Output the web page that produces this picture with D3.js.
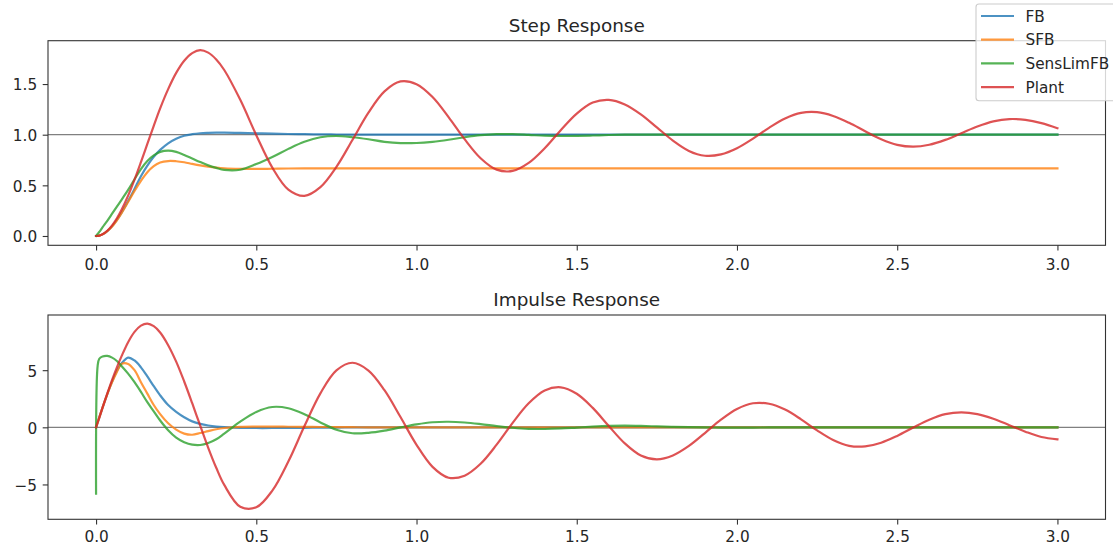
<!DOCTYPE html>
<html>
<head>
<meta charset="utf-8">
<script src="https://cdn.jsdelivr.net/npm/d3@7"></script>
<style>
  body { margin: 0; background: #fff; }
  svg { display: block; font-family: "DejaVu Sans", sans-serif; }
</style>
</head>
<body>
<div id="chart"></div>
<script>
// sample times (s), shared by every series
const tGrid = [0, 0.005, 0.01, 0.02, 0.035, 0.05, 0.065, 0.08, 0.1, 0.12,
  0.14, 0.16, 0.18, 0.2, 0.225, 0.25, 0.275, 0.3, 0.325, 0.35,
  0.375, 0.4, 0.45, 0.5, 0.55, 0.6, 0.65, 0.7, 0.75, 0.8,
  0.85, 0.9, 0.95, 1.0, 1.05, 1.1, 1.15, 1.2, 1.25, 1.3,
  1.35, 1.4, 1.45, 1.5, 1.55, 1.6, 1.65, 1.7, 1.75, 1.8,
  1.85, 1.9, 1.95, 2.0, 2.05, 2.1, 2.15, 2.2, 2.25, 2.3,
  2.35, 2.4, 2.45, 2.5, 2.55, 2.6, 2.65, 2.7, 2.75, 2.8,
  2.85, 2.9, 2.95, 3.0];

const seriesNames = ['FB', 'SFB', 'SensLimFB', 'Plant'];

// step response values
const stepFB = [0, 0.001, 0.004, 0.016, 0.048, 0.095, 0.158, 0.232, 0.345, 0.465,
  0.59, 0.695, 0.782, 0.85, 0.915, 0.96, 0.99, 1.005, 1.014, 1.018,
  1.02, 1.02, 1.018, 1.014, 1.01, 1.007, 1.005, 1.003, 1.002, 1.001,
  1, 1, 1, 1, 1, 1, 1, 1, 1, 1,
  1, 1, 1, 1, 1, 1, 1, 1, 1, 1,
  1, 1, 1, 1, 1, 1, 1, 1, 1, 1,
  1, 1, 1, 1, 1, 1, 1, 1, 1, 1,
  1, 1, 1, 1];
const stepSFB = [0, 0.001, 0.004, 0.016, 0.048, 0.094, 0.155, 0.228, 0.335, 0.445,
  0.545, 0.63, 0.69, 0.725, 0.74, 0.738, 0.728, 0.712, 0.697, 0.684,
  0.674, 0.667, 0.662, 0.662, 0.664, 0.666, 0.667, 0.667, 0.667, 0.667,
  0.667, 0.667, 0.667, 0.667, 0.667, 0.667, 0.667, 0.667, 0.667, 0.667,
  0.667, 0.667, 0.667, 0.667, 0.667, 0.667, 0.667, 0.667, 0.667, 0.667,
  0.667, 0.667, 0.667, 0.667, 0.667, 0.667, 0.667, 0.667, 0.667, 0.667,
  0.667, 0.667, 0.667, 0.667, 0.667, 0.667, 0.667, 0.667, 0.667, 0.667,
  0.667, 0.667, 0.667, 0.667];
const stepSensLim = [0, 0.02, 0.04, 0.085, 0.15, 0.22, 0.29, 0.36, 0.455, 0.56,
  0.66, 0.74, 0.795, 0.83, 0.842, 0.83, 0.8, 0.765, 0.73, 0.697,
  0.672, 0.652, 0.654, 0.71, 0.78, 0.86, 0.93, 0.975, 0.987, 0.975,
  0.955, 0.93, 0.917, 0.918, 0.93, 0.95, 0.975, 0.995, 1.005, 1.005,
  0.998, 0.99, 0.987, 0.988, 0.992, 0.997, 1, 1, 1, 1,
  1, 1, 1, 1, 1, 1, 1, 1, 1, 1,
  1, 1, 1, 1, 1, 1, 1, 1, 1, 1,
  1, 1, 1, 1];
const stepPlant = [0, 0.001, 0.004, 0.017, 0.052, 0.105, 0.175, 0.261, 0.398, 0.556,
  0.729, 0.909, 1.088, 1.26, 1.45, 1.61, 1.73, 1.805, 1.835, 1.81,
  1.743, 1.639, 1.344, 0.995, 0.675, 0.458, 0.396, 0.482, 0.682, 0.948,
  1.218, 1.428, 1.526, 1.499, 1.372, 1.174, 0.956, 0.768, 0.655, 0.642,
  0.721, 0.866, 1.044, 1.208, 1.317, 1.344, 1.299, 1.201, 1.072, 0.942,
  0.84, 0.792, 0.805, 0.866, 0.961, 1.068, 1.16, 1.215, 1.222, 1.185,
  1.117, 1.034, 0.955, 0.9, 0.882, 0.901, 0.949, 1.014, 1.08, 1.131,
  1.154, 1.146, 1.114, 1.064];

// impulse response values
const impFB = [0, 0.42, 0.85, 1.7, 2.9, 4.0, 4.95, 5.6, 6.1, 5.85,
  5.25, 4.45, 3.6, 2.8, 1.95, 1.35, 0.88, 0.52, 0.3, 0.16,
  0.07, 0.02, -0.04, -0.06, -0.06, -0.05, -0.04, -0.03, -0.02, -0.01,
  0, 0, 0, 0, 0, 0, 0, 0, 0, 0,
  0, 0, 0, 0, 0, 0, 0, 0, 0, 0,
  0, 0, 0, 0, 0, 0, 0, 0, 0, 0,
  0, 0, 0, 0, 0, 0, 0, 0, 0, 0,
  0, 0, 0, 0];
const impSFB = [0, 0.42, 0.85, 1.7, 2.9, 3.95, 4.85, 5.55, 5.55, 5.0,
  3.95, 2.95, 1.95, 1.15, 0.35, -0.2, -0.55, -0.65, -0.5, -0.33,
  -0.17, -0.06, 0.04, 0.06, 0.06, 0.05, 0.04, 0.03, 0.02, 0.01,
  0, 0, 0, 0, 0, 0, 0, 0, 0, 0,
  0, 0, 0, 0, 0, 0, 0, 0, 0, 0,
  0, 0, 0, 0, 0, 0, 0, 0, 0, 0,
  0, 0, 0, 0, 0, 0, 0, 0, 0, 0,
  0, 0, 0, 0];
const impSensLim = [-5.8, 5.4, 6.0, 6.2, 6.25, 6.1, 5.8, 5.35, 4.7, 3.95,
  3.1, 2.2, 1.4, 0.6, -0.25, -0.9, -1.3, -1.52, -1.55, -1.37,
  -1.05, -0.55, 0.5, 1.35, 1.78, 1.67, 1.15, 0.43, -0.21, -0.52,
  -0.48, -0.29, -0.01, 0.26, 0.445, 0.487, 0.42, 0.28, 0.11, -0.04,
  -0.135, -0.145, -0.1, -0.02, 0.06, 0.12, 0.14, 0.12, 0.08, 0.04,
  0.01, -0.01, -0.02, -0.03, -0.02, -0.01, 0, 0, 0, 0,
  0, 0, 0, 0, 0, 0, 0, 0, 0, 0,
  0, 0, 0, 0];
const impPlant = [0, 0.42, 0.85, 1.7, 2.95, 4.15, 5.25, 6.25, 7.45, 8.35,
  8.9, 9.08, 8.85, 8.3, 7.19, 5.75, 4.01, 2.11, 0.14, -1.79,
  -3.54, -5.04, -6.95, -7.0, -5.54, -2.99, 0.09, 2.97, 4.98, 5.65,
  4.97, 3.25, 0.9, -1.53, -3.46, -4.41, -4.23, -3.19, -1.52, 0.39,
  2.1, 3.22, 3.5, 2.94, 1.7, 0.11, -1.41, -2.47, -2.8, -2.46,
  -1.63, -0.5, 0.665, 1.605, 2.105, 2.06, 1.55, 0.7, -0.27, -1.11,
  -1.62, -1.67, -1.35, -0.75, -0.025, 0.66, 1.15, 1.31, 1.16, 0.75,
  0.19, -0.38, -0.85, -1.05];

const xTicks = [0, 0.5, 1.0, 1.5, 2.0, 2.5, 3.0];
const stepYTicks = [0, 0.5, 1.0, 1.5];
const impYTicks = [-5, 0, 5];

const W = 1113, H = 546;
const colors = ['#1f77b4', '#ff7f0e', '#2ca02c', '#d62728'];
const left = 48, right = 1105.5;

const svg = d3.select('#chart').append('svg')
  .attr('width', W)
  .attr('height', H);
svg.append('rect').attr('width', W).attr('height', H).attr('fill', '#fff');

const x = d3.scaleLinear().domain([-0.15, 3.15]).range([left, right]);

const minusFmt = d => (d < 0 ? '\u2212' + Math.abs(d) : String(d));

const panels = [
  { title: 'Step Response', top: 40.7, bottom: 245.3, domain: [-0.092, 1.928],
    yTicks: stepYTicks, fmt: d3.format('.1f'), ref: 1, xPad: 8.6,
    series: [stepFB, stepSFB, stepSensLim, stepPlant] },
  { title: 'Impulse Response', top: 315, bottom: 519.3, domain: [-8.05, 9.83],
    yTicks: impYTicks, fmt: minusFmt, ref: 0, xPad: 6.8,
    series: [impFB, impSFB, impSensLim, impPlant] }
];

panels.forEach(p => {
  const y = d3.scaleLinear().domain(p.domain).range([p.bottom, p.top]);
  const g = svg.append('g');

  // reference line
  g.append('line')
    .attr('x1', left).attr('x2', right)
    .attr('y1', y(p.ref)).attr('y2', y(p.ref))
    .attr('stroke', '#808080')
    .attr('stroke-width', 1.2);

  const line = d3.line()
    .x(d => x(d[0]))
    .y(d => y(d[1]))
    .curve(d3.curveCatmullRom.alpha(0.5));

  p.series.forEach((s, i) => {
    if (s.length !== tGrid.length) console.warn('length mismatch', p.title, seriesNames[i], s.length);
    g.append('path')
      .datum(d3.zip(tGrid, s))
      .attr('d', line)
      .attr('fill', 'none')
      .attr('stroke', colors[i])
      .attr('stroke-opacity', 0.8)
      .attr('stroke-width', 2.2)
      .attr('stroke-linejoin', 'round')
      .attr('stroke-linecap', 'square');
  });

  // axes
  const xa = g.append('g')
    .attr('transform', `translate(0,${p.bottom})`)
    .call(d3.axisBottom(x).tickValues(xTicks).tickFormat(d3.format('.1f')).tickSize(5.3).tickPadding(p.xPad));
  const ya = g.append('g')
    .attr('transform', `translate(${left},0)`)
    .call(d3.axisLeft(y).tickValues(p.yTicks).tickFormat(p.fmt).tickSize(5.3).tickPadding(5.6));
  [xa, ya].forEach(a => {
    a.select('.domain').remove();
    a.selectAll('.tick line').attr('stroke', '#333').attr('stroke-width', 1.1);
    a.selectAll('.tick text')
      .attr('fill', '#262626')
      .style('font-size', '15.3px')
      .style('font-family', '"DejaVu Sans", sans-serif');
  });
  ya.selectAll('.tick text').attr('dy', '0.38em');

  // frame
  g.append('rect')
    .attr('x', left).attr('y', p.top)
    .attr('width', right - left).attr('height', p.bottom - p.top)
    .attr('fill', 'none')
    .attr('stroke', '#333')
    .attr('stroke-width', 1.1);

  g.append('text')
    .attr('x', (left + right) / 2)
    .attr('y', p.top - 9.2)
    .attr('text-anchor', 'middle')
    .attr('fill', '#262626')
    .style('font-size', '18.4px')
    .text(p.title);
});

// figure legend, top right
const leg = svg.append('g');
leg.append('rect')
  .attr('x', 976).attr('y', 4)
  .attr('width', 150).attr('height', 96.7)
  .attr('rx', 3)
  .attr('fill', '#fff').attr('fill-opacity', 0.8)
  .attr('stroke', '#cccccc').attr('stroke-width', 1.1);
seriesNames.forEach((name, i) => {
  const ry = 16 + i * 23.7;
  leg.append('line')
    .attr('x1', 981).attr('x2', 1014)
    .attr('y1', ry).attr('y2', ry)
    .attr('stroke', colors[i]).attr('stroke-opacity', 0.8)
    .attr('stroke-width', 2.2);
  leg.append('text')
    .attr('x', 1025.5).attr('y', ry)
    .attr('dy', '0.36em')
    .attr('fill', '#262626')
    .style('font-size', '15.3px')
    .text(name);
});
</script>
</body>
</html>
